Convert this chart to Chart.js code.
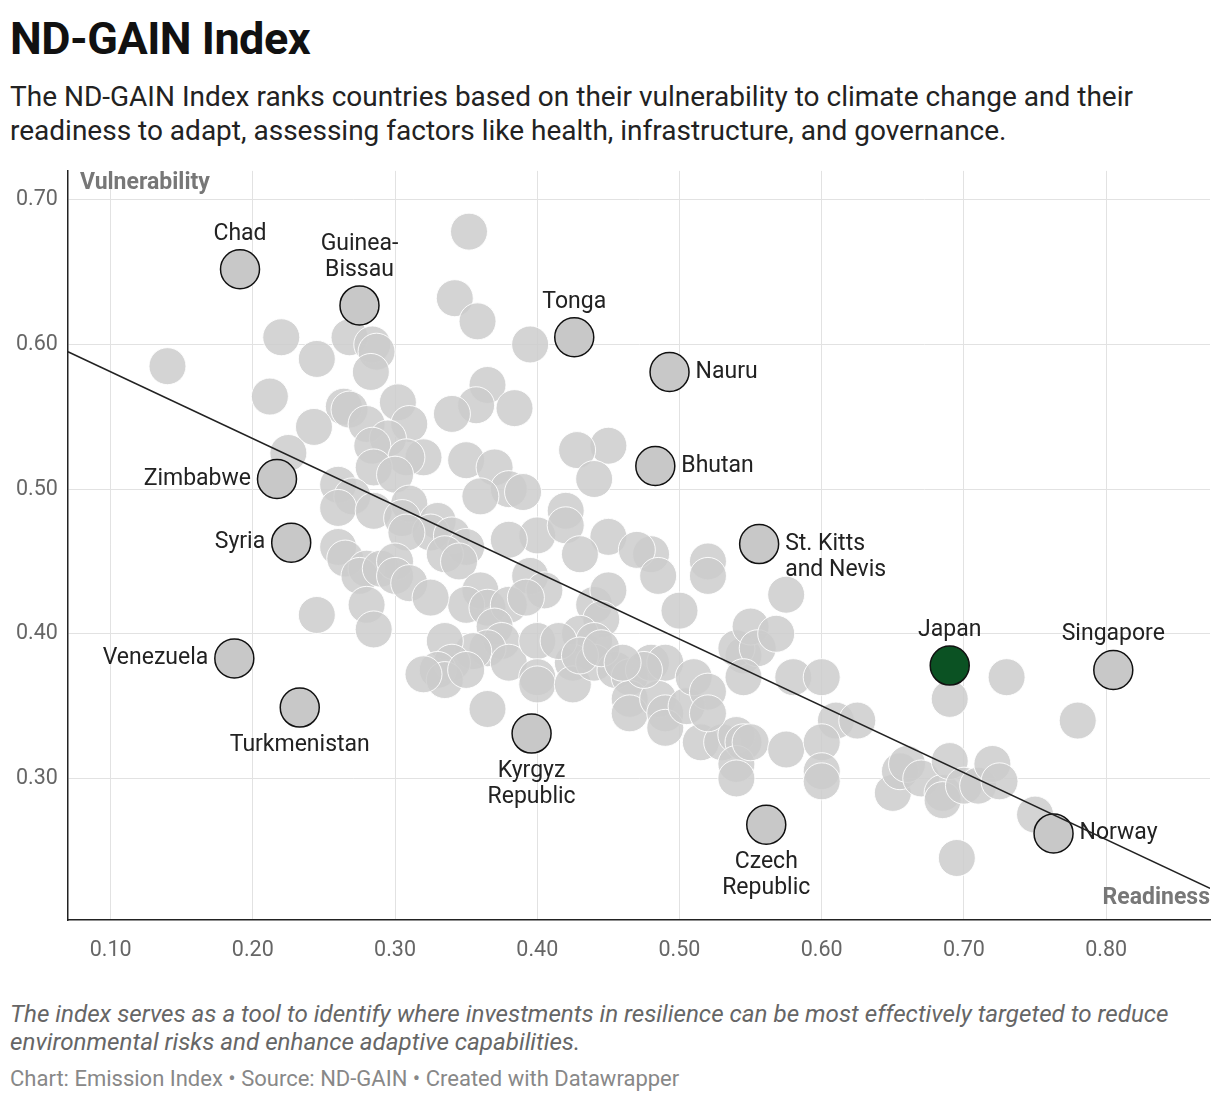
<!DOCTYPE html>
<html><head><meta charset="utf-8">
<script src="https://cdn.jsdelivr.net/npm/chart.js@4"></script>
<style>
body{margin:0;background:#fff;font-family:Roboto,sans-serif;width:1220px;height:1102px;overflow:hidden;position:relative}
h1{position:absolute;left:10px;top:12px;margin:0;font-size:45px;font-weight:700;color:#111;letter-spacing:-0.5px}
.sub{position:absolute;left:10px;top:80px;font-size:28px;line-height:34px;color:#222;width:1170px}
#wrap{position:absolute;left:0;top:148px;width:1240px;height:848px}
.note{position:absolute;left:10px;top:1000px;font-size:24.2px;font-style:italic;color:#666;line-height:28px;width:1200px}
.src{position:absolute;left:10px;top:1066px;font-size:22px;color:#888}
</style></head><body>
<h1>ND-GAIN Index</h1>
<div class="sub">The ND-GAIN Index ranks countries based on their vulnerability to climate change and their readiness to adapt, assessing factors like health, infrastructure, and governance.</div>
<div id="wrap"><canvas id="c" width="1240" height="848"></canvas></div>
<div class="note">The index serves as a tool to identify where investments in resilience can be most effectively targeted to reduce environmental risks and enhance adaptive capabilities.</div>
<div class="src">Chart: Emission Index • Source: ND-GAIN • Created with Datawrapper</div>
<script>
const grayX=[0.14,0.352,0.342,0.358,0.395,0.22,0.245,0.268,0.284,0.287,0.283,0.212,0.365,0.357,0.384,0.264,0.268,0.243,0.302,0.34,0.28,0.31,0.295,0.284,0.45,0.428,0.225,0.32,0.308,0.35,0.37,0.285,0.3,0.44,0.38,0.36,0.39,0.26,0.27,0.26,0.285,0.31,0.42,0.305,0.33,0.325,0.34,0.4,0.45,0.38,0.42,0.308,0.35,0.335,0.345,0.26,0.265,0.28,0.275,0.29,0.3,0.3,0.31,0.43,0.48,0.47,0.52,0.52,0.485,0.395,0.405,0.36,0.35,0.365,0.38,0.392,0.325,0.28,0.245,0.285,0.44,0.45,0.445,0.43,0.44,0.5,0.575,0.37,0.375,0.365,0.355,0.335,0.34,0.33,0.335,0.32,0.35,0.38,0.4,0.4,0.4,0.425,0.425,0.44,0.455,0.465,0.48,0.49,0.465,0.465,0.485,0.49,0.49,0.505,0.51,0.52,0.515,0.53,0.54,0.545,0.54,0.54,0.55,0.545,0.54,0.55,0.555,0.545,0.568,0.58,0.6,0.61,0.625,0.575,0.6,0.6,0.6,0.365,0.65,0.655,0.66,0.67,0.685,0.685,0.69,0.69,0.7,0.71,0.72,0.725,0.73,0.695,0.75,0.78,0.52,0.475,0.415,0.43,0.445,0.46];
const grayY=[0.585,0.678,0.632,0.616,0.600,0.605,0.590,0.605,0.600,0.595,0.581,0.564,0.572,0.558,0.556,0.557,0.555,0.543,0.560,0.552,0.545,0.545,0.535,0.530,0.530,0.527,0.525,0.522,0.522,0.52,0.515,0.515,0.51,0.507,0.50,0.495,0.498,0.503,0.495,0.487,0.485,0.49,0.485,0.48,0.478,0.47,0.468,0.468,0.467,0.465,0.475,0.47,0.46,0.455,0.45,0.46,0.452,0.445,0.44,0.445,0.45,0.44,0.435,0.455,0.455,0.458,0.45,0.44,0.44,0.44,0.43,0.43,0.42,0.418,0.42,0.425,0.425,0.42,0.413,0.403,0.42,0.43,0.41,0.4,0.395,0.416,0.427,0.405,0.395,0.39,0.388,0.395,0.38,0.375,0.368,0.372,0.375,0.38,0.395,0.37,0.365,0.38,0.365,0.38,0.375,0.37,0.38,0.38,0.355,0.345,0.355,0.345,0.335,0.35,0.37,0.36,0.325,0.325,0.33,0.325,0.31,0.3,0.325,0.385,0.39,0.405,0.39,0.37,0.4,0.37,0.37,0.34,0.34,0.32,0.325,0.305,0.298,0.348,0.29,0.305,0.31,0.3,0.29,0.285,0.355,0.312,0.295,0.295,0.31,0.298,0.37,0.245,0.275,0.34,0.345,0.375,0.395,0.385,0.39,0.38];
const hlNames=["Chad","Guinea-\nBissau","Tonga","Nauru","Bhutan","Zimbabwe","Syria","St. Kitts\nand Nevis","Venezuela","Turkmenistan","Kyrgyz\nRepublic","Czech\nRepublic","Japan","Singapore","Norway"];
const hlX=[0.191,0.275,0.426,0.493,0.483,0.217,0.227,0.556,0.187,0.233,0.396,0.561,0.690,0.805,0.763];
const hlY=[0.652,0.627,0.605,0.581,0.516,0.507,0.463,0.462,0.383,0.349,0.331,0.268,0.378,0.375,0.262];
const hlPos=["top","top","top","right","right","left","left","right","left","bottom","bottom","bottom","top","top","right"];
const trendX=[0.07,0.873], trendY=[0.595,0.224];
const xTicks=[0.1,0.2,0.3,0.4,0.5,0.6,0.7,0.8], yTicks=[0.3,0.4,0.5,0.6,0.7];

const labelPlugin={id:'lbl',afterDatasetsDraw(ch){
 const c=ch.ctx,xs=ch.scales.x,ys=ch.scales.y;c.save();
 c.font='23px Roboto';c.fillStyle='#222';
 hlNames.forEach((n,i)=>{const px=xs.getPixelForValue(hlX[i]),py=ys.getPixelForValue(hlY[i]);
  const lines=n.split('\n');const lh=26;
  lines.forEach((l,j)=>{let x=px,y;
   if(hlPos[i]==='top'){c.textAlign='center';c.textBaseline='bottom';y=py-24-(lines.length-1-j)*lh;}
   else if(hlPos[i]==='bottom'){c.textAlign='center';c.textBaseline='top';y=py+26+j*lh;}
   else if(hlPos[i]==='right'){c.textAlign='left';c.textBaseline='middle';x=px+26;y=py+(j-(lines.length-1)/2)*lh+(lines.length>1?13:0);}
   else{c.textAlign='right';c.textBaseline='middle';x=px-26;y=py+(j-(lines.length-1)/2)*lh;}
   c.fillText(l,x,y);});});
 c.font='bold 23px Roboto';c.fillStyle='#777';
 c.textAlign='left';c.textBaseline='top';c.fillText('Vulnerability',ch.chartArea.left+12,ch.chartArea.top+1);
 c.textAlign='right';c.textBaseline='bottom';c.fillText('Readiness',ch.chartArea.right,ch.chartArea.bottom-10);
 c.restore();}};

new Chart(document.getElementById('c'),{
 data:{datasets:[
  {type:'line',data:trendX.map((x,i)=>({x,y:trendY[i]})),borderColor:'#222',borderWidth:1.5,pointRadius:0,order:0},
  {type:'scatter',data:hlX.map((x,i)=>({x,y:hlY[i]})),pointRadius:19.5,pointBackgroundColor:hlNames.map(n=>n==='Japan'?'#0b5223':'#c8c8c8'),pointBorderColor:'#111',pointBorderWidth:1.5,order:1},
  {type:'scatter',data:grayX.map((x,i)=>({x,y:grayY[i]})),pointRadius:18.5,pointBackgroundColor:'rgba(204,204,204,0.85)',pointBorderColor:'rgba(255,255,255,0.9)',pointBorderWidth:1,order:2}
 ]},
 options:{responsive:false,animation:false,devicePixelRatio:1,
  layout:{padding:{left:6,right:30,top:10,bottom:14}},
  plugins:{legend:{display:false},tooltip:{enabled:false}},
  scales:{
   x:{type:'linear',min:0.07,max:0.873,afterBuildTicks:a=>{a.ticks=xTicks.map(v=>({value:v}))},
    ticks:{callback:v=>v.toFixed(2),color:'#666',font:{family:'Roboto',size:21.5},padding:18,maxRotation:0},
    grid:{color:'#e2e2e2',drawTicks:false},border:{color:'#222',width:1.5}},
   y:{type:'linear',min:0.202,max:0.72,afterBuildTicks:a=>{a.ticks=yTicks.map(v=>({value:v}))},
    ticks:{callback:v=>v.toFixed(2),color:'#666',font:{family:'Roboto',size:21.5},padding:10},
    grid:{color:'#e2e2e2',drawTicks:false},border:{color:'#222',width:1.5}}
  }},
 plugins:[labelPlugin]});
</script>
</body></html>
